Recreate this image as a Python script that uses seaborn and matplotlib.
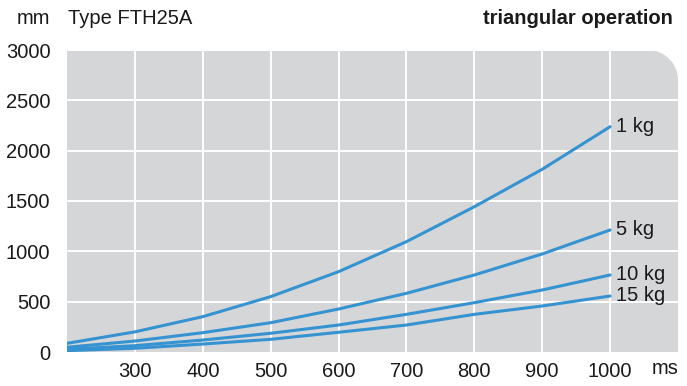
import numpy as np
import pandas as pd
import seaborn as sns
import matplotlib.pyplot as plt
from matplotlib.path import Path
from matplotlib.patches import PathPatch

# travel time (ms) vs stroke (mm), one series per load
times = [200, 300, 400, 500, 600, 700, 800, 900, 1000]
load_1kg = [86, 200, 351, 550, 798, 1096, 1443, 1815, 2238]
load_5kg = [47, 109, 192, 291, 427, 583, 765, 974, 1212]
load_10kg = [27, 63, 119, 186, 268, 374, 490, 616, 765]
load_15kg = [13, 37, 79, 126, 196, 268, 374, 457, 556]
loads = ["1 kg", "5 kg", "10 kg", "15 kg"]
xticks = [300, 400, 500, 600, 700, 800, 900, 1000]
yticks = [0, 500, 1000, 1500, 2000, 2500, 3000]

df = pd.concat([
    pd.DataFrame({"time": times, "stroke": vals, "load": name})
    for name, vals in zip(loads, [load_1kg, load_5kg, load_10kg, load_15kg])
])

sns.set_style("white")
plt.rcParams["font.family"] = ["Liberation Sans", "DejaVu Sans"]

line_col = "#3593d1"
bg_col = "#d5d6d8"
txt_col = "#1a1a1a"
fs = 14.5

fig = plt.figure(figsize=(6.87, 3.86), dpi=100)
ax = fig.add_axes([67 / 687, 34 / 386, 611 / 687, 302 / 386])
ax.set_facecolor("none")

# grey panel with rounded top-right corner
rx, ry = 30 / 611, 30 / 302
k = 0.5523
verts = [(0, 0), (1, 0), (1, 1 - ry),
         (1, 1 - ry + k * ry), (1 - rx + k * rx, 1), (1 - rx, 1),
         (0, 1), (0, 0)]
codes = [Path.MOVETO, Path.LINETO, Path.LINETO,
         Path.CURVE4, Path.CURVE4, Path.CURVE4,
         Path.LINETO, Path.CLOSEPOLY]
ax.add_patch(PathPatch(Path(verts, codes), transform=ax.transAxes,
                       facecolor=bg_col, edgecolor="none", zorder=0))

# white grid
for xv in xticks:
    ax.axvline(xv, color="white", lw=1.4, zorder=1)
for yv in yticks[1:]:
    ax.axhline(yv, color="white", lw=1.4, zorder=1)

sns.lineplot(data=df, x="time", y="stroke", hue="load",
             palette=[line_col] * 4, legend=False, lw=2.2, ax=ax, zorder=3)

ax.set_xlim(200, 1100)
ax.set_ylim(0, 3000)
ax.set_xticks(xticks)
ax.set_yticks(yticks)
ax.set_xlabel("")
ax.set_ylabel("")
for s in ax.spines.values():
    s.set_visible(False)
ax.tick_params(axis="both", length=0, labelsize=fs, colors=txt_col)
ax.tick_params(axis="y", pad=12)
ax.tick_params(axis="x", pad=7)

# series labels at the right end
label_y = [2238, 1212, 765, 556]
for name, yv in zip(loads, label_y):
    ax.text(1008, yv + 5, name, fontsize=fs, va="center", ha="left", color=txt_col)

fig.text(50 / 687, 1 - 18 / 386, "mm", fontsize=fs, ha="right", va="center", color=txt_col)
fig.text(68 / 687, 1 - 18 / 386, "Type FTH25A", fontsize=fs, ha="left", va="center", color=txt_col)
fig.text(673 / 687, 1 - 18 / 386, "triangular operation", fontsize=fs, fontweight="bold",
         ha="right", va="center", color=txt_col)
fig.text(652 / 687, 1 - 369 / 386, "ms", fontsize=fs, ha="left", va="center", color=txt_col)

fig.savefig("out.png", dpi=100)
